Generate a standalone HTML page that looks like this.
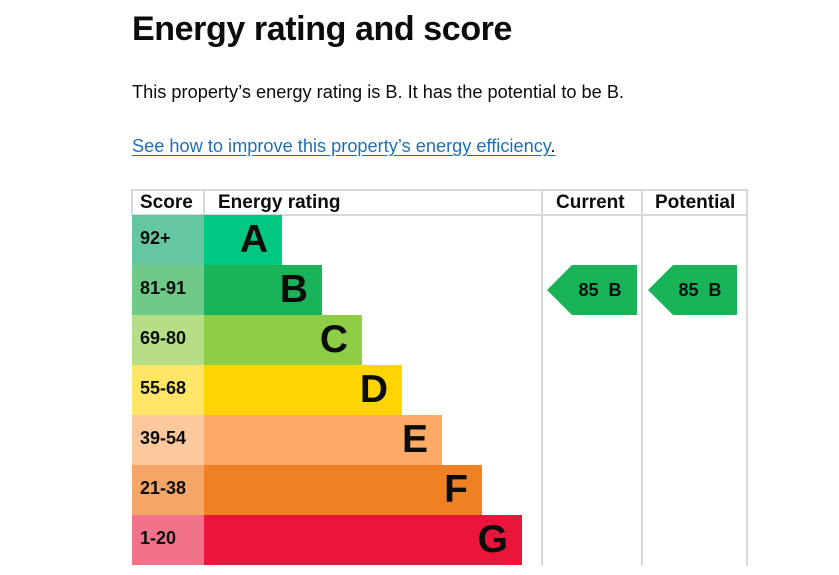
<!DOCTYPE html>
<html><head><style>
body{margin:0;width:839px;height:575px;background:#fff;font-family:"Liberation Sans",Arial,sans-serif;color:#0b0c0c;position:relative;overflow:hidden}
.a{position:absolute}
h1{position:absolute;left:132px;top:10px;margin:0;font-size:34px;font-weight:bold;letter-spacing:-0.4px}
.p{left:132px;font-size:18.2px}
.l{color:#1d70b8;text-decoration:underline;text-underline-offset:3px}
.h{top:190px;height:25px;font-weight:bold;font-size:19px;line-height:25px}
.s{left:132px;width:72px;height:50px;line-height:46px;font-weight:bold;font-size:18px;padding-left:8px;box-sizing:border-box}
.b{left:204px;height:50px;font-weight:bold;font-size:39px;line-height:50px;text-align:right;padding-right:14px;box-sizing:border-box}
.v{background:#d8d8d8;width:2px}
</style></head><body>
<h1>Energy rating and score</h1>
<div class="a p" style="top:82px">This property’s energy rating is B. It has the potential to be B.</div>
<div class="a p l" style="top:136px">See how to improve this property’s energy efficiency<span style="color:#0b0c0c;text-decoration:none">.</span></div>
<div class="a" style="left:132px;top:189px;width:615px;height:2px;background:#d8d8d8"></div>
<div class="a" style="left:132px;top:214px;width:615px;height:2px;background:#d8d8d8"></div>
<div class="a v" style="left:131px;top:189px;height:26px"></div>
<div class="a v" style="left:203px;top:189px;height:26px"></div>
<div class="a v" style="left:541px;top:189px;height:377px"></div>
<div class="a v" style="left:641px;top:189px;height:377px"></div>
<div class="a v" style="left:746px;top:189px;height:377px"></div>
<div class="a h" style="left:140px">Score</div>
<div class="a h" style="left:218px">Energy rating</div>
<div class="a h" style="left:556px">Current</div>
<div class="a h" style="left:655px">Potential</div>

<div class="a s" style="top:215px;background:#64c7a1">92+</div>
<div class="a b" style="top:215px;width:78px;background:#00c781">A</div>
<div class="a s" style="top:265px;background:#6fc987">81-91</div>
<div class="a b" style="top:265px;width:118px;background:#19b459">B</div>
<div class="a s" style="top:315px;background:#b4df86">69-80</div>
<div class="a b" style="top:315px;width:158px;background:#8dce46">C</div>
<div class="a s" style="top:365px;background:#ffe666">55-68</div>
<div class="a b" style="top:365px;width:198px;background:#ffd500">D</div>
<div class="a s" style="top:415px;background:#fdc89c">39-54</div>
<div class="a b" style="top:415px;width:238px;background:#fcaa65">E</div>
<div class="a s" style="top:465px;background:#f5a667">21-38</div>
<div class="a b" style="top:465px;width:278px;background:#ef8023">F</div>
<div class="a s" style="top:515px;background:#f27389">1-20</div>
<div class="a b" style="top:515px;width:318px;background:#e9153b">G</div>

<svg class="a" style="left:0;top:0" width="839" height="575">
<polygon points="547,290 572,265 637,265 637,315 572,315" fill="#19b459"/>
<polygon points="648,290 673,265 737,265 737,315 673,315" fill="#19b459"/>
<text x="600" y="296" font-family="Liberation Sans,Arial,sans-serif" font-weight="bold" font-size="18" text-anchor="middle" fill="#0b0c0c" xml:space="preserve">85  B</text>
<text x="700" y="296" font-family="Liberation Sans,Arial,sans-serif" font-weight="bold" font-size="18" text-anchor="middle" fill="#0b0c0c" xml:space="preserve">85  B</text>
</svg>
</body></html>
